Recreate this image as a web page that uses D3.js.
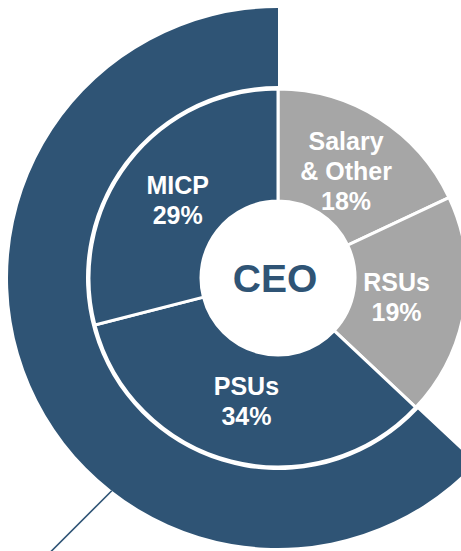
<!DOCTYPE html>
<html>
<head>
<meta charset="utf-8">
<script src="https://cdn.jsdelivr.net/npm/d3@7"></script>
<style>
  body { margin: 0; background: #fff; }
  svg { display: block; font-family: "Liberation Sans", Arial, sans-serif; }
</style>
</head>
<body>
<svg id="chart" width="461" height="551"></svg>
<script>
var categories = ['Salary & Other', 'RSUs', 'PSUs', 'MICP'];
var labelLines = [['Salary', '& Other', '18%'], ['RSUs', '19%'], ['PSUs', '34%'], ['MICP', '29%']];
var values = [18, 19, 34, 29];
var atRisk = ['PSUs', 'MICP'];
var centerLabel = 'CEO';

var blue = '#2f5475';
var grey = '#a6a6a6';

var svg = d3.select('#chart');
var cx = 278, cy = 278;

var g = svg.append('g')
    .attr('transform', 'translate(' + cx + ',' + cy + ')');

var pie = d3.pie()
    .sort(null)
    .value(function(d, i){ return values[i]; });

var arcs = pie(categories);

// outer band around the at-risk pieces
var riskArcs = arcs.filter(function(d){ return atRisk.indexOf(d.data) >= 0; });
var outerArc = d3.arc()
    .innerRadius(192)
    .outerRadius(270);

g.append('path')
    .attr('d', outerArc({
        startAngle: d3.min(riskArcs, function(d){ return d.startAngle; }),
        endAngle: d3.max(riskArcs, function(d){ return d.endAngle; })
    }))
    .attr('fill', blue);

// leader line off the outer band
var p1 = d3.pointRadial(218 * Math.PI / 180, 270);
var p2 = d3.pointRadial(219.7 * Math.PI / 180, 356);
g.append('line')
    .attr('x1', p1[0]).attr('y1', p1[1])
    .attr('x2', p2[0]).attr('y2', p2[1])
    .attr('stroke', blue)
    .attr('stroke-width', 1.6);

var arc = d3.arc()
    .innerRadius(77)
    .outerRadius(189);

g.selectAll('path.slice')
    .data(arcs)
    .enter()
    .append('path')
    .attr('class', 'slice')
    .attr('d', arc)
    .attr('fill', function(d){ return atRisk.indexOf(d.data) >= 0 ? blue : grey; })
    .attr('stroke', '#fff')
    .attr('stroke-width', 3);

g.append('circle')
    .attr('r', 77)
    .attr('fill', '#fff');

g.append('text')
    .attr('text-anchor', 'middle')
    .attr('dy', '0.36em')
    .attr('x', -3)
    .attr('fill', blue)
    .attr('font-size', 39)
    .attr('font-weight', 'bold')
    .text(centerLabel);

// labels sit near the slice centroids; RSUs a bit further in
var labelRadius = function(d){ return d.data === 'RSUs' ? 120 : 127; };

var lineH = 30;
g.selectAll('text.lbl')
    .data(arcs)
    .enter()
    .append('text')
    .attr('class', 'lbl')
    .attr('text-anchor', 'middle')
    .attr('fill', '#fff')
    .attr('font-size', 25)
    .attr('font-weight', 'bold')
    .attr('transform', function(d){
        var r = labelRadius(d);
        var c = d3.arc().innerRadius(r).outerRadius(r).centroid(d);
        return 'translate(' + c[0] + ',' + c[1] + ')';
    })
    .each(function(d, i){
        var lines = labelLines[i];
        var top = -(lines.length - 1) * lineH / 2;
        d3.select(this).selectAll('tspan')
            .data(lines)
            .enter()
            .append('tspan')
            .attr('x', 0)
            .attr('y', function(t, j){ return top + j * lineH; })
            .attr('dy', '0.36em')
            .text(function(t){ return t; });
    });
</script>
</body>
</html>
